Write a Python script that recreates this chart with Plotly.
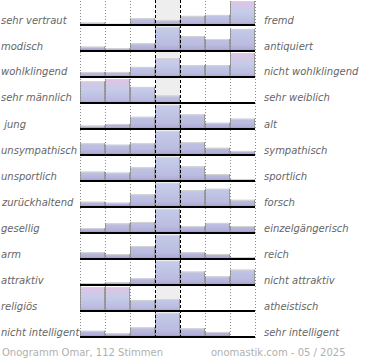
import plotly.graph_objects as go

# ---------------- data ----------------
left_labels = ["sehr vertraut", "modisch", "wohlklingend", "sehr männlich", "\u00a0jung",
               "unsympathisch", "unsportlich", "zurückhaltend", "gesellig", "arm",
               "attraktiv", "religiös", "nicht intelligent"]
right_labels = ["fremd", "antiquiert", "nicht wohlklingend", "sehr weiblich", "alt",
                "sympathisch", "sportlich", "forsch", "einzelgängerisch", "reich",
                "nicht attraktiv", "atheistisch", "sehr intelligent"]
# bar heights per row (7 answer steps); 100 = full row height, larger values overflow
row_sehr_vertraut = [10, 5, 28, 21, 38, 42, 100]
row_modisch = [18, 11, 32, 185, 62, 50, 92]
row_wohlklingend = [21, 21, 42, 79, 50, 50, 100]
row_maennlich = [90, 100, 67, 31, 0, 0, 0]
row_jung = [14, 21, 51, 170, 61, 26, 43]
row_unsympathisch = [49, 43, 49, 175, 53, 30, 17]
row_unsportlich = [39, 35, 57, 165, 61, 29, 7]
row_zurueckhaltend = [22, 18, 53, 160, 70, 76, 30]
row_gesellig = [20, 40, 46, 190, 28, 42, 29]
row_arm = [28, 20, 54, 195, 28, 21, 8]
row_attraktiv = [7, 11, 28, 170, 56, 36, 64]
row_religioes = [100, 99, 46, 50, 0, 0, 0]
row_intelligent = [26, 15, 40, 200, 36, 21, 0]
rows = [row_sehr_vertraut, row_modisch, row_wohlklingend, row_maennlich, row_jung,
        row_unsympathisch, row_unsportlich, row_zurueckhaltend, row_gesellig, row_arm,
        row_attraktiv, row_religioes, row_intelligent]
footer_left = "Onogramm Omar, 112 Stimmen"
footer_right = "onomastik.com - 05 / 2025"

# ---------------- geometry / style ----------------
W, H = 370, 360
COL_PX = 25.0
X0_PX = 80.0
ROW_PX = 26.0
BASE0_PX = 25.0
FULL = 24.0 / ROW_PX          # full bar height in row units
N = len(rows)
HPX = 0.5 / COL_PX            # half pixel in x units

def px_to_x(p):
    return (p - X0_PX) / COL_PX

def px_to_y(p):
    return (N - 1) - (p - BASE0_PX) / ROW_PX

CS = [[0.0, "#9a8cc4"], [0.05, "#b1aed9"], [0.15, "#bbbce0"], [0.45, "#c3c8e7"],
      [0.6, "#c7cce9"], [0.75, "#d1c8e7"], [1.0, "#e0c3e3"]]

fig = go.Figure()

for i, vals in enumerate(rows):
    base = (N - 1) - i
    stop = base + max(100, max(vals)) / 100.0 * FULL
    sx, sy, tx, ty = [], [], [], []
    for j, v in enumerate(vals):
        if v <= 0:
            continue
        top = base + min(v, 100) / 100.0 * FULL
        fig.add_trace(go.Scatter(
            x=[j, j, j + 1, j + 1, j], y=[base, top, top, base, base],
            mode="lines", fill="toself",
            fillgradient=dict(type="vertical", colorscale=CS, start=base, stop=stop),
            line=dict(width=0, color="rgba(0,0,0,0)"), hoverinfo="skip"))
        for xx in (j + HPX, j + 1 - HPX):
            sx += [xx, xx, None]
            sy += [base, top, None]
        tx += [j, j + 1, None]
        ty += [top - 0.5 / ROW_PX, top - 0.5 / ROW_PX, None]
    fig.add_trace(go.Scatter(x=tx, y=ty, mode="lines",
                             line=dict(color="#d4d4d4", width=1), hoverinfo="skip"))
    fig.add_trace(go.Scatter(x=sx, y=sy, mode="lines",
                             line=dict(color="#9a9a9a", width=1), hoverinfo="skip"))

y_top = px_to_y(0)
y_bot = px_to_y(338)
shapes = []
# middle column background
shapes.append(dict(type="rect", xref="x", yref="y", x0=3, x1=4, y0=y_bot, y1=y_top,
                   fillcolor="#eeeeee", line=dict(width=0), layer="below"))
# vertical grid lines
for k in range(8):
    if k in (3, 4):
        ln = dict(color="#000000", width=1, dash="3px,2px")
    else:
        ln = dict(color="#8a8a8a", width=1, dash="1px,2px")
    shapes.append(dict(type="line", xref="x", yref="y", x0=k + HPX, x1=k + HPX,
                       y0=y_bot, y1=y_top, line=ln, layer="above"))
# baselines
for i in range(N):
    base = (N - 1) - i
    shapes.append(dict(type="line", xref="x", yref="y", x0=0, x1=7, y0=base, y1=base,
                       line=dict(color="#000000", width=2), layer="above"))

def pxx(p):
    return p / W

def pxy(p):
    return 1 - p / H

annotations = []
lab_font = dict(family="DejaVu Sans", size=10, color="#666666", style="italic")
for i in range(N):
    yc = BASE0_PX + ROW_PX * i - 5
    annotations.append(dict(x=pxx(-1), y=pxy(yc), xref="paper", yref="paper",
                            text=left_labels[i], showarrow=False, xanchor="left",
                            yanchor="middle", font=lab_font))
    annotations.append(dict(x=pxx(262), y=pxy(yc), xref="paper", yref="paper",
                            text=right_labels[i], showarrow=False, xanchor="left",
                            yanchor="middle", font=lab_font))
foot_font = dict(family="DejaVu Sans", size=10, color="#b0b0b0")
annotations.append(dict(x=pxx(0), y=pxy(352), xref="paper", yref="paper", text=footer_left,
                        showarrow=False, xanchor="left", yanchor="middle", font=foot_font))
annotations.append(dict(x=pxx(348), y=pxy(352), xref="paper", yref="paper", text=footer_right,
                        showarrow=False, xanchor="right", yanchor="middle", font=foot_font))

fig.update_layout(
    width=W, height=H, margin=dict(l=0, r=0, t=0, b=0),
    paper_bgcolor="white", plot_bgcolor="white", showlegend=False,
    xaxis=dict(range=[px_to_x(0), px_to_x(W)], visible=False, fixedrange=True),
    yaxis=dict(range=[px_to_y(H), px_to_y(0)], visible=False, fixedrange=True),
    shapes=shapes, annotations=annotations,
)

fig.write_html("out.html", config={"displayModeBar": False},
               post_script="document.body.style.margin='0';")
